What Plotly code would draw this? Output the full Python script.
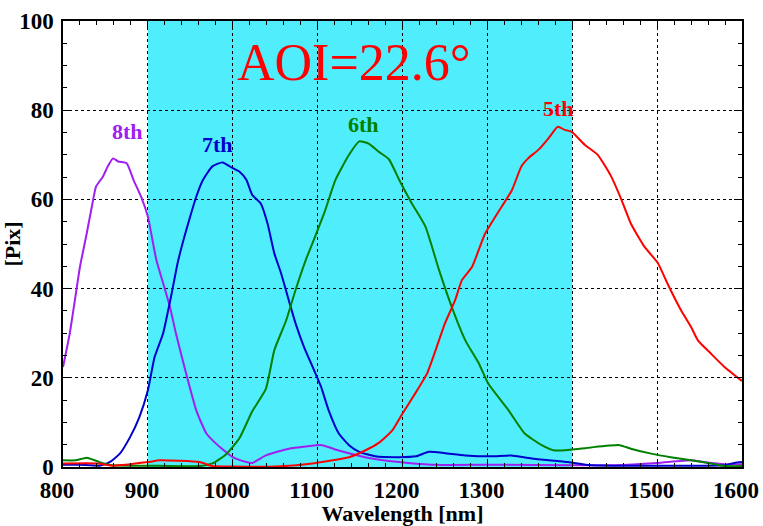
import plotly.graph_objects as go

# ---- data ----
x_8th = [800, 808, 814, 820, 828, 834, 839, 847, 853, 859, 865, 875, 883, 892, 900, 910, 918, 926, 933, 945,
         957, 969, 980, 1000, 1016, 1023, 1039, 1066, 1086, 1105, 1125, 1156, 1196, 1234, 1313, 1400, 1450,
         1500, 1540, 1555, 1579, 1600]
y_8th = [22.4, 30, 37.4, 44.9, 52.4, 58.4, 62.9, 65.1, 67.5, 69.2, 68.5, 68.1, 64.4, 60.6, 56.1, 46.4, 41.2,
         35.9, 30, 21, 12.7, 7.5, 5.3, 2.2, 1.1, 0.9, 2.6, 4.1, 4.6, 4.9, 3.7, 2.2, 1.1, 0.5, 0.5, 0.4, 0.4,
         0.9, 1.5, 1.1, 0.6, 0.6]

x_7th = [800, 820, 843, 855, 867, 879, 890, 900, 908, 918, 928, 935, 943, 951, 957, 965, 976, 988, 1000,
         1008, 1016, 1023, 1033, 1041, 1049, 1057, 1066, 1074, 1084, 1094, 1104, 1113, 1125, 1137, 1149, 1168,
         1196, 1216, 1231, 1250, 1274, 1305, 1328, 1352, 1395, 1422, 1500, 1580, 1591, 1600]
y_7th = [0.5, 0.5, 0.3, 1.1, 3, 6.7, 11.2, 17.2, 24.7, 30, 38.9, 45.7, 51.6, 56.9, 60.6, 64.4, 67.4, 68.3,
         67, 66.2, 64.4, 61, 59.1, 54.6, 47.9, 43.4, 37.4, 32.2, 26.9, 22.5, 18, 12.7, 7.5, 4.9, 3.4, 2.4,
         2.2, 2.4, 3.4, 3.1, 2.6, 2.4, 2.6, 1.9, 1.1, 0.4, 0.3, 0.4, 0.9, 1.1]

x_6th = [800, 815, 828, 843, 859, 900, 961, 976, 992, 1008, 1023, 1039, 1049, 1063, 1074, 1086, 1094, 1109,
         1121, 1137, 1149, 1160, 1172, 1184, 1196, 1211, 1227, 1243, 1258, 1274, 1290, 1301, 1325, 1344, 1364,
         1379, 1399, 1422, 1456, 1469, 1493, 1516, 1540, 1563, 1579, 1600]
y_6th = [1.5, 1.5, 2.1, 1.1, 0.4, 0.3, 0.2, 0.8, 2.8, 6.5, 12.5, 17.5, 26.2, 32.9, 39.7, 46.4, 50.2, 57.6,
         64.4, 70, 73, 72.5, 70.7, 69, 64.4, 59.1, 53.9, 44.2, 35.9, 28.4, 23.2, 18.7, 12.7, 7.5, 4.9, 3.7,
         3.9, 4.4, 4.9, 4.1, 3, 2.2, 1.5, 0.8, 0.2, 0.2]

x_5th = [800, 840, 860, 900, 914, 961, 976, 1000, 1050, 1094, 1137, 1156, 1172, 1188, 1200, 1215, 1229, 1239,
         1250, 1262, 1270, 1282, 1297, 1317, 1329, 1340, 1348, 1360, 1372, 1383, 1391, 1399, 1415, 1430, 1446,
         1458, 1469, 1485, 1501, 1512, 1528, 1540, 1548, 1563, 1579, 1600]
y_5th = [0.8, 0.8, 0.3, 1.1, 1.5, 1.1, 0.2, 0.1, 0.1, 0.8, 2.2, 3.7, 5.4, 8.2, 12, 16.5, 21, 26.2, 32.2,
         37.4, 41.9, 44.9, 52.2, 58.4, 62.1, 67.4, 69.2, 71.1, 73.7, 76.3, 75.6, 75.2, 72.2, 70, 65.1, 59.9,
         54.6, 49.4, 45.7, 41.2, 35.2, 31.4, 28.4, 25.5, 22.5, 19.3]

series_names = ["8th", "7th", "6th", "5th"]
series_colors = ["#A020F0", "#0000CD", "#008000", "#FF0000"]
label_x = [876, 982, 1154, 1384]
label_y = [75.3, 72.4, 76.9, 80.3]

band = [900, 1400]
aoi_text = "AOI=22.6°"
aoi_pos = [1143, 90.6]

x_ticks = [800, 900, 1000, 1100, 1200, 1300, 1400, 1500, 1600]
y_ticks = [0, 20, 40, 60, 80, 100]

FONT = "Liberation Serif"

fig = go.Figure()
xs = [x_8th, x_7th, x_6th, x_5th]
ys = [y_8th, y_7th, y_6th, y_5th]
for name, c, x, y in zip(series_names, series_colors, xs, ys):
    fig.add_trace(go.Scatter(x=x, y=y, mode="lines", name=name,
                             line=dict(color=c, width=2, shape="spline", smoothing=0.5),
                             showlegend=False))

for name, c, lx, ly in zip(series_names, series_colors, label_x, label_y):
    fig.add_annotation(x=lx, y=ly, text="<b>%s</b>" % name, showarrow=False,
                       font=dict(family=FONT, size=22, color=c))

fig.add_annotation(x=aoi_pos[0], y=aoi_pos[1], text=aoi_text, showarrow=False,
                   font=dict(family=FONT, size=52, color="#FF0000"))

fig.add_shape(type="rect", x0=band[0], x1=band[1], y0=0, y1=100, xref="x", yref="y",
              fillcolor="#50EEFC", line=dict(width=0), layer="below")

axis_common = dict(
    showline=True, linecolor="black", linewidth=1.5, mirror="ticks",
    ticks="inside", ticklen=8, tickcolor="black", tickwidth=1,
    showgrid=True, gridcolor="black", gridwidth=1, griddash="dot",
    zeroline=False, automargin=False,
    tickfont=dict(family=FONT, size=23, color="black", weight="bold"),
)

fig.update_xaxes(range=[800, 1600], tickvals=x_ticks, **axis_common,
                 ticklabelshift=-6, ticklabelstandoff=2,
                 minor=dict(dtick=20, ticks="inside", ticklen=4, tickcolor="black", showgrid=False),
                 title=dict(text="<b>Wavelength [nm]</b>", standoff=2,
                            font=dict(family=FONT, size=22, color="black")))
fig.update_yaxes(range=[0, 100], tickvals=y_ticks, **axis_common,
                 ticklabelstandoff=3,
                 minor=dict(dtick=5, ticks="inside", ticklen=4, tickcolor="black", showgrid=False),
                 title=dict(text="<b>[Pix]</b>", standoff=2,
                            font=dict(family=FONT, size=22, color="black")))

fig.update_layout(width=763, height=526, margin=dict(l=63, r=21, t=21, b=59),
                  plot_bgcolor="white", paper_bgcolor="white")

fig.write_html("out.html", config={"displayModeBar": False},
               post_script="document.body.style.margin='0';")
